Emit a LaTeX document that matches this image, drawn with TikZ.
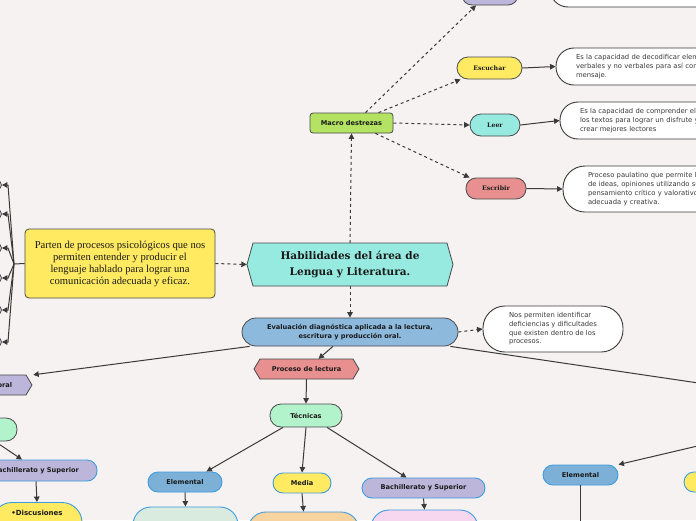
\documentclass[tikz,border=0pt]{standalone}
\usepackage{fontspec}
\setmainfont{Liberation Serif}
\setsansfont{DejaVu Sans}
\newfontfamily\slab{DejaVu Serif}
\usetikzlibrary{arrows.meta,calc}
\definecolor{bg}{HTML}{F5F2F1}
\definecolor{edge}{HTML}{4A4A4A}
\definecolor{ln}{HTML}{3A3A3A}
\definecolor{teal}{HTML}{96EADF}
\definecolor{yel}{HTML}{FFEA62}
\definecolor{red}{HTML}{E88F8F}
\definecolor{lav}{HTML}{BBB6DA}
\definecolor{mgreen}{HTML}{B4E262}
\definecolor{evblue}{HTML}{8DB9DD}
\definecolor{elblue}{HTML}{7DB0D6}
\definecolor{tgreen}{HTML}{B3F3CC}
\definecolor{lgreen}{HTML}{D9EBDF}
\definecolor{orng}{HTML}{F7D49F}
\definecolor{pink}{HTML}{F7D6F0}
\definecolor{bborder}{HTML}{3D9CDF}
\definecolor{txt}{HTML}{1A1A1A}
\tikzset{
  box/.style={draw=edge, line width=0.8pt, inner sep=0pt, text=txt},
  bbox/.style={draw=bborder, line width=0.9pt, inner sep=0pt, text=txt},
  wbox/.style={draw=ln, line width=0.9pt, fill=white, inner sep=0pt, text=ln,
     font=\sffamily\fontsize{6.8}{8.7}\selectfont, align=left},
  sbold/.style={font=\sffamily\bfseries\fontsize{6.6}{9}\selectfont},
  slabf/.style={font=\slab\bfseries\fontsize{6.2}{8}\selectfont},
  hexa/.style={draw=edge, line width=0.8pt},
  conn/.style={draw=ln, line width=1pt, -{Triangle[length=5.5pt,width=5.5pt]}},
  dconn/.style={conn, dash pattern=on 3pt off 3pt},
  plain/.style={draw=ln, line width=1pt},
}
\begin{document}
\begin{tikzpicture}[x=1pt,y=-1pt]
\useasboundingbox (0,0) rectangle (696,520);
\clip (0,0) rectangle (696,520);
\fill[bg] (0,0) rectangle (696,520);

% hexagon outlines
\filldraw[hexa, fill=teal] (247,264.5) -- (253,243) -- (447,243) -- (453,264.5) -- (447,286) -- (253,286) -- cycle;
\filldraw[hexa, fill=red] (254,369) -- (260,359) -- (353,359) -- (359,369) -- (353,379) -- (260,379) -- cycle;
\filldraw[hexa, fill=lav] (32,385) -- (26,375) -- (-70,375) -- (-76,385) -- (-70,395) -- (26,395) -- cycle;

% top partial nodes
\node[box, fill=lav, rounded corners=10pt, minimum width=56pt, minimum height=26pt] (topl) at (490,-8) {};
\node[wbox, rounded corners=18pt, minimum width=210pt, minimum height=40pt] (topw) at (655,-13) {};

% macro skills
\node[box, fill=mgreen, rounded corners=3pt, minimum width=83pt, minimum height=20pt, sbold] (macro) at (351.5,123) {Macro destrezas};
\node[box, fill=yel, rounded corners=11pt, minimum width=65pt, minimum height=22pt, slabf] (esc) at (489.5,68) {Escuchar};
\node[box, fill=teal, rounded corners=11pt, minimum width=50pt, minimum height=22pt, slabf] (leer) at (495,125) {Leer};
\node[box, fill=red, rounded corners=10pt, minimum width=60pt, minimum height=21pt, slabf] (escr) at (496,188.5) {Escribir};

\node[wbox, rounded corners=18pt, minimum width=208pt, minimum height=37pt, text width=168pt] (escw) at (660,66.5)
 {Es la capacidad de decodificar elementos\\verbales y no verbales para así comprender el\\mensaje.};
\node[wbox, rounded corners=18pt, minimum width=210pt, minimum height=37pt, text width=170pt] (leerw) at (665,120.5)
 {Es la capacidad de comprender el contenido de\\los textos para lograr un disfrute y así\\crear mejores lectores};
\node[wbox, rounded corners=22pt, minimum width=210pt, minimum height=46pt, text width=160pt] (escrw) at (668,189)
 {Proceso paulatino que permite la expresión\\de ideas, opiniones utilizando su\\pensamiento crítico y valorativo de forma\\adecuada y creativa.};

% central
\node[minimum width=206pt, minimum height=43pt, inner sep=0pt, align=center, text=txt,
      font=\slab\bfseries\fontsize{10.5}{16}\selectfont] (hab) at (350,264.5)
 {Habilidades del área de\\Lengua y Literatura.};
\node[box, fill=yel, rounded corners=4pt, minimum width=190pt, minimum height=69pt, align=center,
      font=\fontsize{10.6}{12}\selectfont] (parten) at (120,263.5)
 {Parten de procesos psicológicos que nos\\permiten entender y producir el\\lenguaje hablado para lograr una\\comunicación adecuada y eficaz.};

% left fan
\coordinate (jn) at (14,264);
\foreach \i/\yy in {1/185,2/214,3/248,4/278,5/310,6/342}{
  \node[circle, draw=edge, fill=lav!60, line width=0.8pt, minimum size=9pt, inner sep=0pt] (c\i) at (-3,\yy) {};
}

% evaluation
\node[box, fill=evblue, rounded corners=14pt, minimum width=216pt, minimum height=28pt, align=center,
      font=\sffamily\bfseries\fontsize{6.6}{9}\selectfont] (eval) at (350,332)
 {Evaluación diagnóstica aplicada a la lectura,\\escritura y producción oral.};
\node[wbox, rounded corners=22pt, minimum width=140pt, minimum height=46pt] (nosw) at (553,329)
 {Nos permiten identificar\\deficiencias y dificultades\\que existen dentro de los\\procesos.};

\node[minimum width=105pt, minimum height=20pt, inner sep=0pt, text=txt, sbold] (proc) at (306.5,369) {Proceso de lectura};
\node[minimum width=108pt, minimum height=20pt, inner sep=0pt, text=txt, sbold] (oral) at (-17,385) {Producción oral};

\node[box, fill=tgreen, rounded corners=11pt, minimum width=72pt, minimum height=23pt, sbold] (tec) at (306,415.5) {Técnicas};
\node[bbox, fill=elblue, rounded corners=10pt, minimum width=74pt, minimum height=20pt, sbold] (elem1) at (185,482) {Elemental};
\node[bbox, fill=yel, rounded corners=10pt, minimum width=58pt, minimum height=20pt, sbold] (media) at (302,483) {Media};
\node[bbox, fill=lav, rounded corners=10pt, minimum width=123pt, minimum height=20pt, sbold] (bach1) at (423.5,488) {Bachillerato y Superior};

\node[bbox, fill=lgreen, rounded corners=18pt, minimum width=105pt, minimum height=50pt] (b1) at (185.5,532) {};
\node[bbox, fill=orng, rounded corners=18pt, minimum width=111pt, minimum height=50pt] (b2) at (303.5,537) {};
\node[bbox, fill=pink, rounded corners=18pt, minimum width=107pt, minimum height=50pt] (b3) at (424.5,535) {};

% left column
\node[box, fill=tgreen, rounded corners=11pt, minimum width=74pt, minimum height=23pt] (grn) at (-20,429.5) {};
\node[bbox, fill=lav, rounded corners=10pt, minimum width=122pt, minimum height=21pt, sbold] (bachL) at (36,470.5) {Bachillerato y Superior};
\node[bbox, fill=yel, rounded corners=20pt, minimum width=90pt, minimum height=55pt] (yelL) at (37,530) {};
\node[sbold, text=txt, anchor=north, inner sep=0pt] (disc) at ([yshift=-8pt]yelL.north) {\fontsize{7}{9}\selectfont •Discusiones};

% right side
\node[bbox, fill=elblue, rounded corners=10pt, minimum width=75pt, minimum height=20pt, sbold] (elem2) at (580.5,475) {Elemental};
\node[bbox, fill=yel, rounded corners=10pt, minimum width=72pt, minimum height=20pt] (yelR) at (720,482) {};
\coordinate (offR) at (800,398);
\coordinate (offR2) at (730,438.4);
\coordinate (offB) at (580.5,540);

% connectors
\draw[dconn] ([xshift=14pt]macro.north) -- ([xshift=-14pt]topl.south);
\draw[dconn] ([xshift=27pt]macro.north) -- ([xshift=4pt]esc.south west);
\draw[dconn] (macro.east) -- (leer.west);
\draw[dconn] ([xshift=-18pt]macro.south east) -- ([xshift=4pt]escr.north west);
\draw[dconn] (hab.north) -- (macro.south);
\draw[dconn] (parten.east) -- (hab.west);
\draw[dconn] (hab.south) -- (eval.north);
\draw[dconn] (eval.east) -- (nosw.west);

\draw[conn] (esc.east) -- (escw.west);
\draw[conn] (leer.east) -- (leerw.west);
\draw[conn] (escr.east) -- (escrw.west);

\draw[plain] (parten.west) -- (jn);
\foreach \i in {1,...,6}{
  \draw[conn] (jn) -- (8,0 |- c\i) -- (c\i.east);
}

\draw[conn] ([xshift=-17pt]eval.south) -- ([xshift=12pt]proc.north);
\draw[conn] ([xshift=8pt]eval.south west) -- ([xshift=-4pt]oral.north east);
\draw[plain] ([xshift=-8pt]eval.south east) -- (offR);
\draw[conn] (proc.south) -- (tec.north);
\draw[conn] ([xshift=-23pt]tec.south) -- ([xshift=-16pt]elem1.north east);
\draw[conn] (tec.south) -- (media.north);
\draw[conn] ([xshift=21pt]tec.south) -- ([xshift=-17pt]bach1.north);
\draw[conn] (elem1.south) -- (b1.north);
\draw[conn] (media.south) -- (b2.north);
\draw[conn] (bach1.south) -- (b3.north);

\draw[conn] ([xshift=15pt]grn.south) -- ([xshift=-14pt]bachL.north);
\draw[conn] (bachL.south) -- (yelL.north);
\draw[conn] (offR2) -- (elem2.north east);
\draw[plain] (elem2.south) -- (offB);
\end{tikzpicture}
\end{document}
